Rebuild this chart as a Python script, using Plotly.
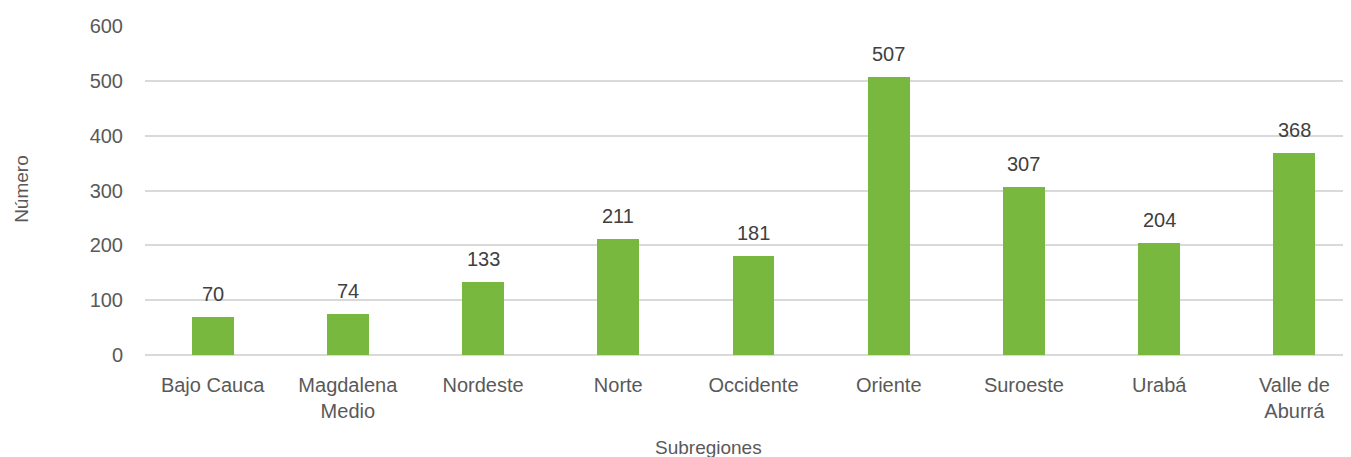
import plotly.graph_objects as go

categories = ["Bajo Cauca", "Magdalena<br>Medio", "Nordeste", "Norte", "Occidente",
              "Oriente", "Suroeste", "Urabá", "Valle de<br>Aburrá"]
values = [70, 74, 133, 211, 181, 507, 307, 204, 368]
y_ticks = [0, 100, 200, 300, 400, 500, 600]

FONT = "Liberation Sans, Arial, sans-serif"
BAR = "#78B83E"
GRAY = "#595959"
DARK = "#404040"

fig = go.Figure()
fig.add_trace(go.Bar(
    x=list(range(len(categories))), y=values,
    marker=dict(color=BAR, line=dict(width=0)),
    width=0.31,
    hoverinfo="skip",
))

for i, v in enumerate(values):
    fig.add_annotation(x=i, y=v, text=str(v), showarrow=False,
                       yanchor="bottom", yshift=10,
                       font=dict(family=FONT, size=20, color=DARK))

fig.add_annotation(xref="paper", yref="paper", x=(22 - 145) / 1217, y=0.505,
                   text="Número", textangle=-90, showarrow=False,
                   xanchor="center", yanchor="middle",
                   font=dict(family=FONT, size=19, color=GRAY))
fig.add_annotation(xref="paper", yref="paper", x=(708 - 145) / 1217, y=(355.3 - 448) / 329,
                   text="Subregiones", showarrow=False,
                   xanchor="center", yanchor="middle",
                   font=dict(family=FONT, size=19, color=GRAY))

fig.update_layout(
    width=1354, height=457,
    margin=dict(l=137, r=0, t=18, b=110, pad=0),
    paper_bgcolor="white", plot_bgcolor="white",
    showlegend=False,
    font=dict(family=FONT, size=20, color=GRAY),
    bargap=0,
)
fig.update_xaxes(
    tickmode="array", tickvals=list(range(len(categories))), ticktext=categories,
    range=[-0.5, 8.5], showgrid=False, zeroline=False, showline=False,
    ticks="", ticklabelstandoff=16,
    tickfont=dict(family=FONT, size=20, color=GRAY),
)
fig.update_yaxes(
    range=[0, 600], tickvals=y_ticks, showgrid=True, gridcolor="#D9D9D9", gridwidth=1.5,
    zeroline=True, zerolinecolor="#D9D9D9", zerolinewidth=1.5,
    showline=False, ticks="", ticklabelstandoff=21,
    tickfont=dict(family=FONT, size=20, color=GRAY),
)

fig.write_html("out.html")
